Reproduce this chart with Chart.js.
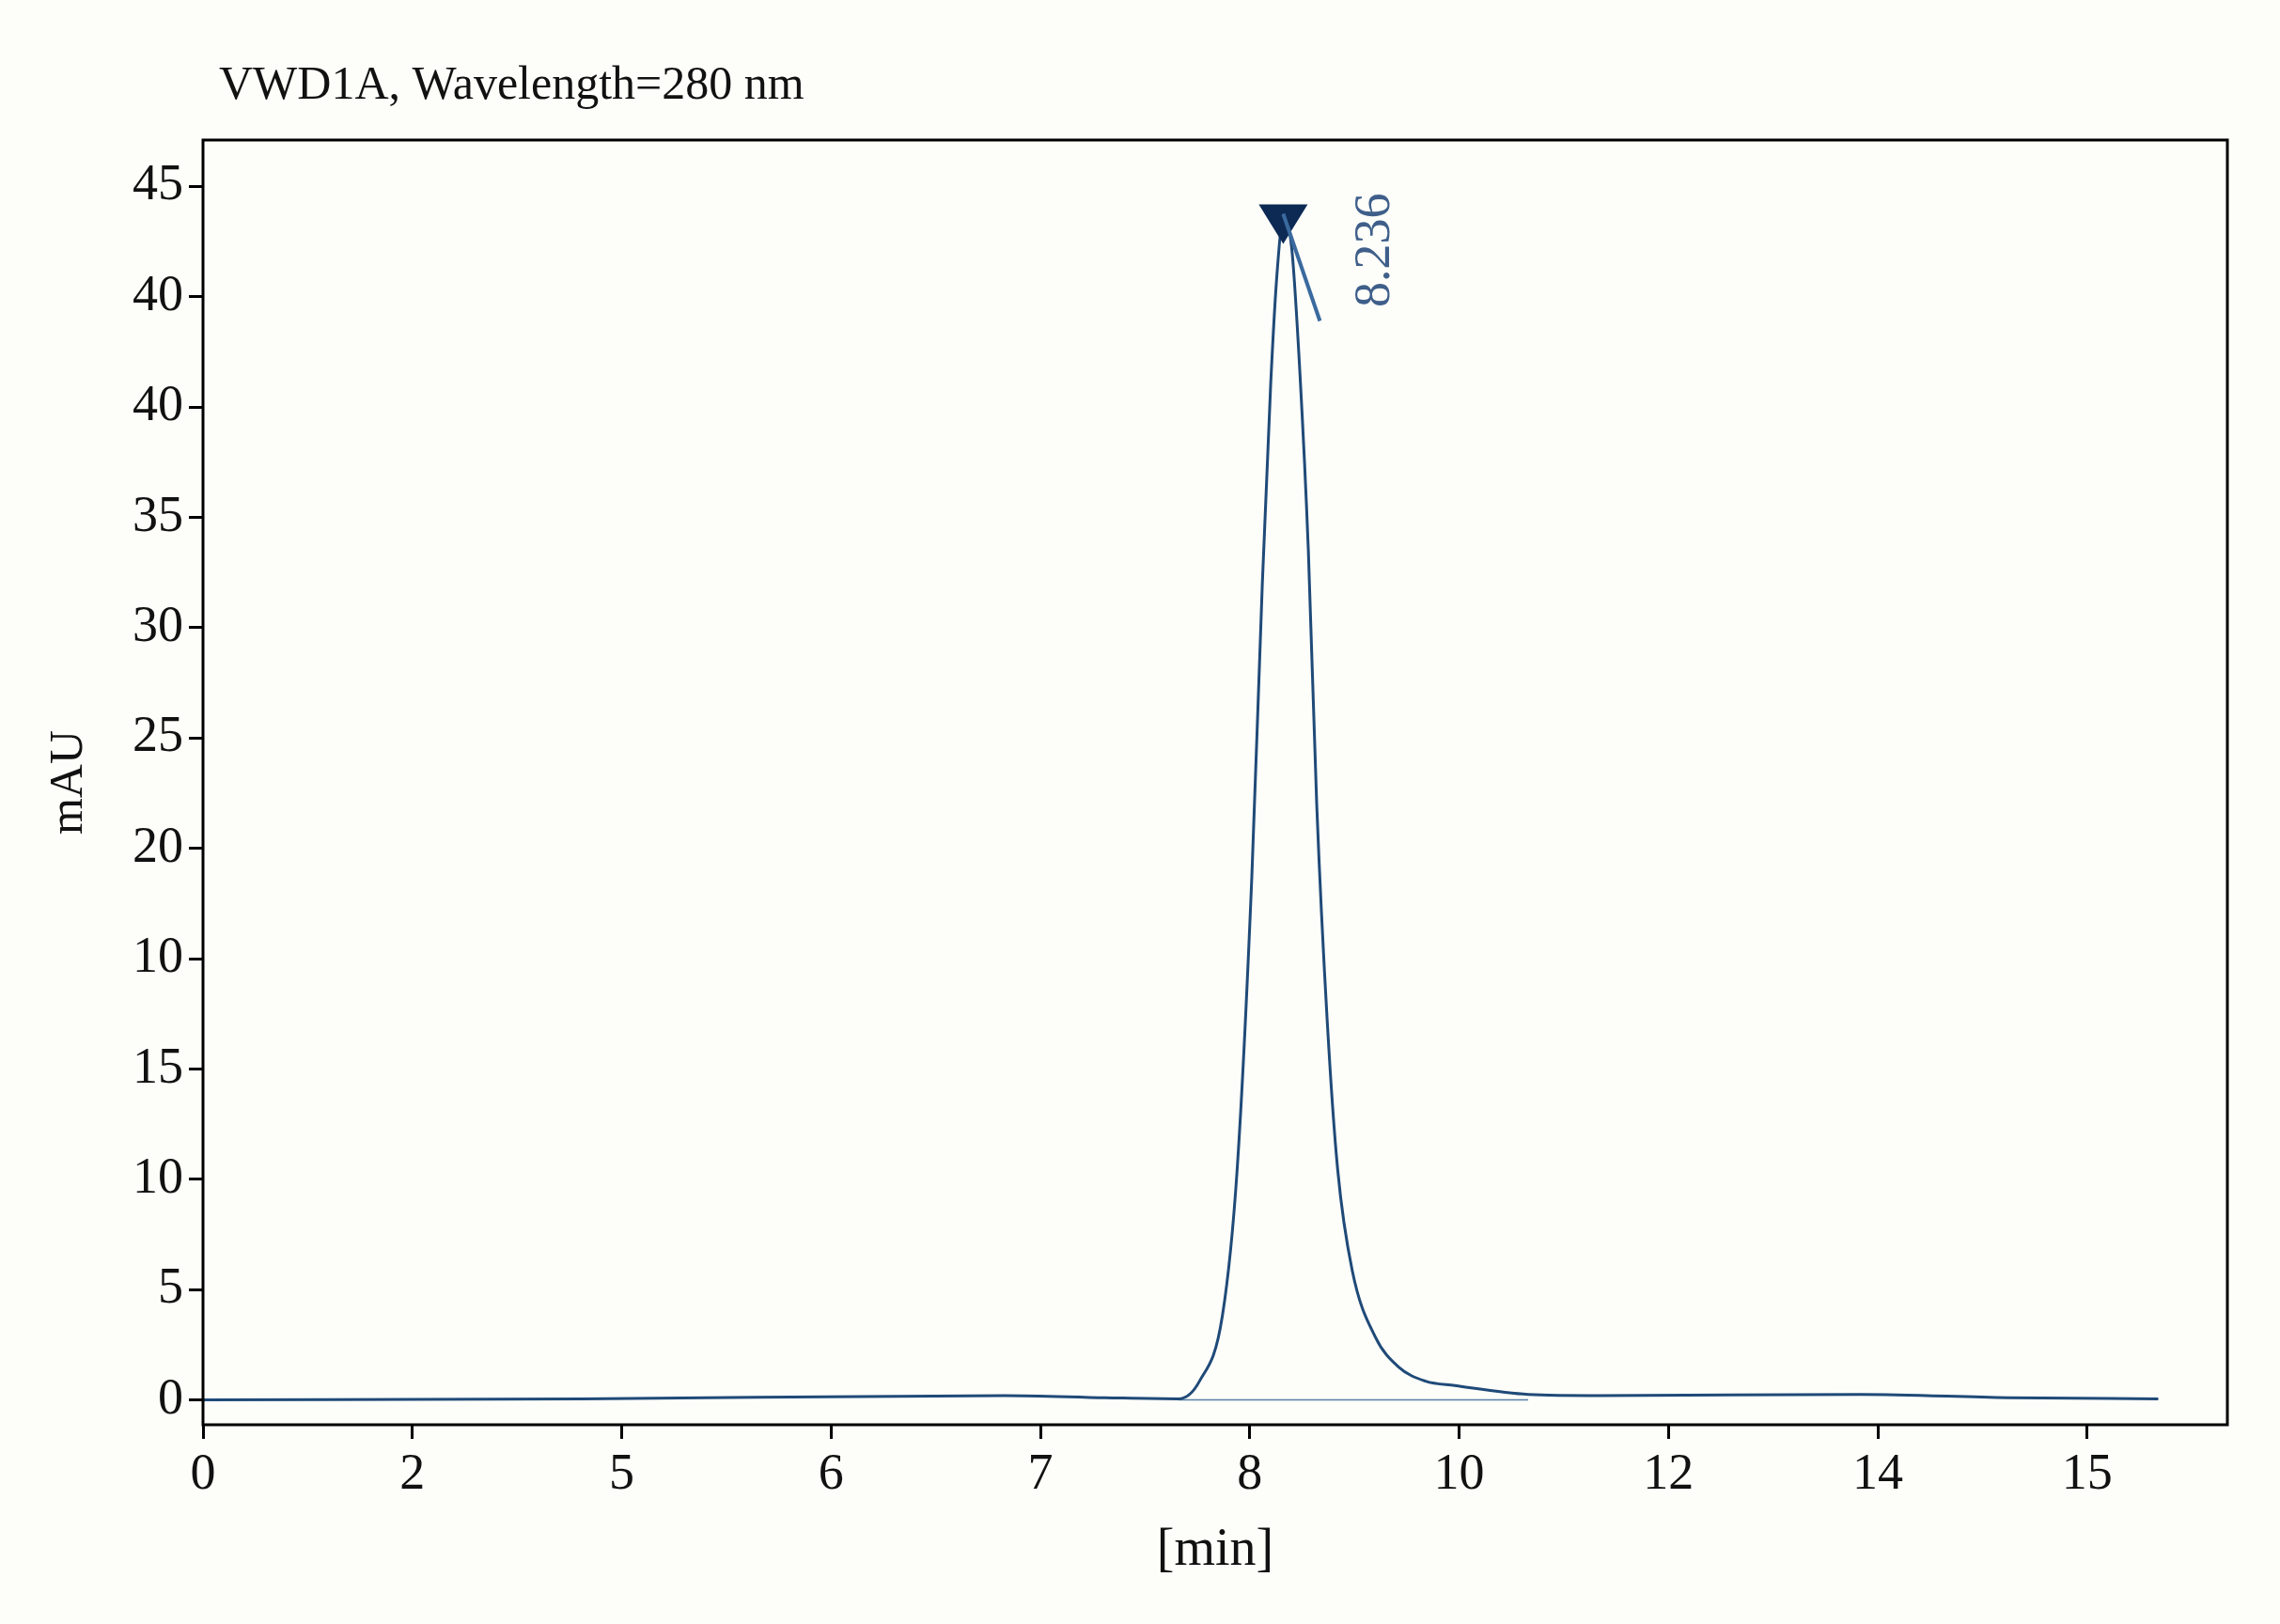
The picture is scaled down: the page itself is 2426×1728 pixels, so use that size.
<!DOCTYPE html>
<html>
<head>
<meta charset="utf-8">
<script src="https://cdn.jsdelivr.net/npm/chart.js@4"></script>
<style>
  html, body { margin: 0; padding: 0; background: #fdfdf9; }
  #wrap { width: 2426px; height: 1728px; }
</style>
</head>
<body>
<div id="wrap"><canvas id="myChart" width="2426" height="1728"></canvas></div>
<script>
// positions along axis in tick-index units (axis labels are not evenly spaced values)
const timePos = [0, 1.81, 3.83, 4.31, 4.66, 4.76, 4.87, 4.94, 5.01, 5.06, 5.10, 5.13, 5.16, 5.20, 5.24, 5.28, 5.32, 5.37, 5.42, 5.49, 5.60, 5.71, 5.84, 5.98, 6.33, 6.67, 7.92, 8.62, 9.34];
const signal = [0, 0.01, 0.04, 0.02, 0.01, 0.17, 0.77, 2.09, 4.74, 7.39, 9.2, 10.2, 10.70, 10.45, 9.3, 7.7, 5.40, 3.44, 2.09, 1.17, 0.57, 0.30, 0.17, 0.13, 0.05, 0.04, 0.05, 0.02, 0.01];
const xTickLabels = ["0", "2", "5", "6", "7", "8", "10", "12", "14", "15"];
const yTickLabels = ["0", "5", "10", "15", "10", "20", "25", "30", "35", "40", "40", "45"];
const peakLabel = "8.236";
const peakIndex = 12;
const baseline = [[4.66, 0], [6.33, 0]];

const font = "'Liberation Serif', 'DejaVu Serif', serif";
const lineColor = "#1f4a78";

const overlay = {
  id: "overlay",
  afterDraw(chart) {
    const ctx = chart.ctx;
    const xs = chart.scales.x, ys = chart.scales.y;
    const a = chart.chartArea;
    ctx.save();
    // frame
    ctx.strokeStyle = "#000";
    ctx.lineWidth = 3;
    ctx.strokeRect(a.left, a.top, a.right - a.left, a.bottom - a.top);
    // title
    ctx.fillStyle = "#111";
    ctx.font = "50px " + font;
    ctx.textBaseline = "alphabetic";
    ctx.fillText("VWD1A, Wavelength=280 nm", 233, 105);
    // peak marker
    const px = xs.getPixelForValue(timePos[peakIndex]);
    const py = ys.getPixelForValue(signal[peakIndex]);
    ctx.fillStyle = "#0d2a55";
    ctx.beginPath();
    ctx.moveTo(px - 26, py - 16);
    ctx.lineTo(px + 26, py - 16);
    ctx.lineTo(px, py + 26);
    ctx.closePath();
    ctx.fill();
    ctx.strokeStyle = "#3a6a9e";
    ctx.lineWidth = 4;
    ctx.beginPath();
    ctx.moveTo(px, py - 6);
    ctx.lineTo(px + 39, py + 108);
    ctx.stroke();
    // label
    ctx.translate(px + 98, py - 28);
    ctx.rotate(-Math.PI / 2);
    ctx.fillStyle = "#3f5f8a";
    ctx.font = "54px " + font;
    ctx.textAlign = "right";
    ctx.textBaseline = "middle";
    ctx.fillText(peakLabel, 0, 0);
    ctx.restore();
  }
};

const config = {
  type: "line",
  data: {
    datasets: [
      {
        data: timePos.map((t, i) => ({ x: t, y: signal[i] })),
        borderColor: lineColor,
        borderWidth: 3,
        pointRadius: 0,
        cubicInterpolationMode: "monotone",
        fill: false,
      },
      {
        data: baseline.map(p => ({ x: p[0], y: p[1] })),
        borderColor: "#5b7fa8",
        borderWidth: 1.5,
        pointRadius: 0,
      },
    ],
  },
  options: {
    responsive: false,
    animation: false,
    layout: { padding: { left: 40, top: 149, right: 56, bottom: 40 } },
    plugins: { legend: { display: false }, tooltip: { enabled: false } },
    scales: {
      x: {
        type: "linear",
        min: 0,
        max: 9.67,
        afterBuildTicks: s => { s.ticks = xTickLabels.map((_, i) => ({ value: i })); },
        afterFit: s => { s.height = 172; },
        ticks: { callback: (v, i) => xTickLabels[i], color: "#111", font: { family: font, size: 54 }, maxRotation: 0, padding: 6 },
        grid: { drawOnChartArea: false, drawTicks: true, tickLength: 15, color: "#000", lineWidth: 3 },
        border: { display: false },
        title: { display: true, text: "[min]", color: "#111", font: { family: font, size: 56 }, padding: { top: 0 } },
      },
      y: {
        type: "linear",
        min: -0.225,
        max: 11.42,
        afterBuildTicks: s => { s.ticks = yTickLabels.map((_, i) => ({ value: i })); },
        afterFit: s => { s.width = 176; },
        ticks: { callback: (v, i) => yTickLabels[i], color: "#111", font: { family: font, size: 54 }, padding: 6 },
        grid: { drawOnChartArea: false, drawTicks: true, tickLength: 15, color: "#000", lineWidth: 3 },
        border: { display: false },
        title: { display: true, text: "mAU", color: "#111", font: { family: font, size: 50 }, padding: { bottom: 0 } },
      },
    },
  },
  plugins: [overlay],
};

new Chart(document.getElementById("myChart").getContext("2d"), config);
</script>
</body>
</html>
